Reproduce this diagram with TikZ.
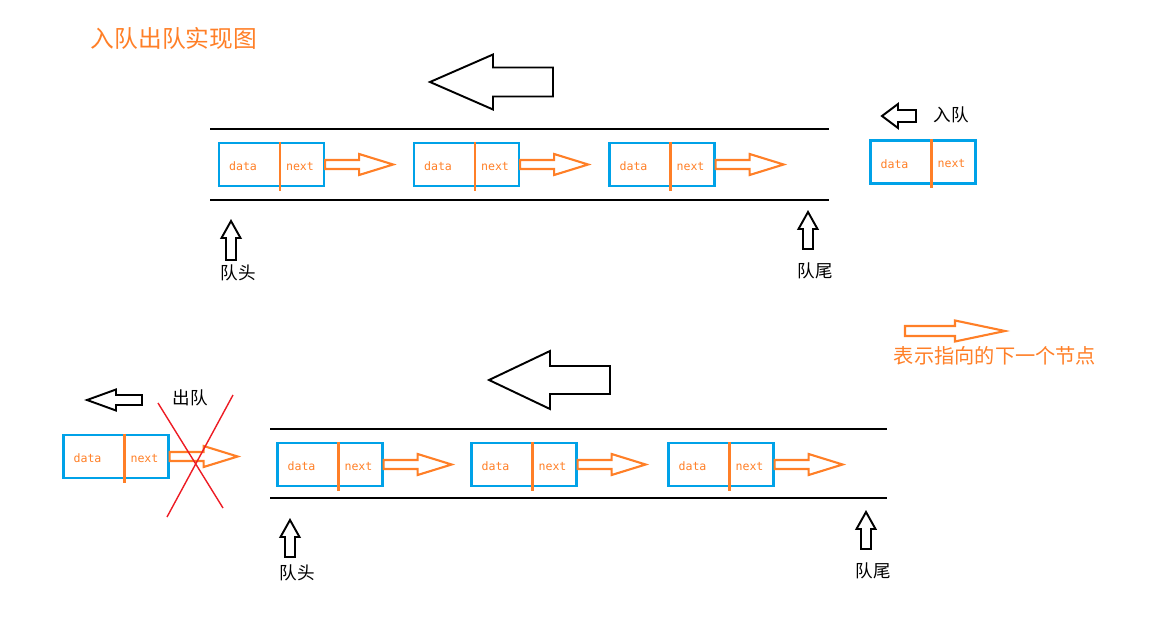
\documentclass[tikz,border=0pt]{standalone}
\usepackage{fontspec}
\newfontfamily\cjk{Noto Sans CJK SC}
\newfontfamily\boxmono{DejaVu Sans Mono}
\usetikzlibrary{positioning}

\definecolor{paintblue}{RGB}{0,162,232}
\definecolor{paintorange}{RGB}{255,127,39}
\definecolor{paintred}{RGB}{237,28,36}

% one queue element: blue box, orange divider, data | next
\newcommand{\listnode}[2]{%
  \node[qbox] (#1) at #2 {};
  \draw[divider] ([xshift=0.17cm]#1.north) -- ([xshift=0.17cm,yshift=-2pt]#1.south);
  \node[field] (#1-d) at ([xshift=-0.57cm,yshift=-1pt]#1.center) {data};
  \node[field] (#1-n) at ([xshift=0.57cm,yshift=-1pt]#1.center) {next};
}

% hollow block arrow: style, tail, angle, length, head length, shaft half, head half
\newcommand{\fatarrow}[7]{%
  \draw[#1, shift={#2}, rotate=#3] (0,-#6) -- ({#4-#5},-#6) -- ({#4-#5},-#7)
    -- (#4,0) -- ({#4-#5},#7) -- ({#4-#5},#6) -- (0,#6) -- cycle;
}

\begin{document}
\begin{tikzpicture}[x=0.02cm, y=-0.02cm,
  qbox/.style={draw=paintblue, line width=1.3pt, minimum width=2.1cm,
    minimum height=0.86cm, inner sep=0pt},
  divider/.style={draw=paintorange, line width=1.3pt},
  field/.style={text=paintorange, font=\boxmono\fontsize{6.6}{8}\selectfont, inner sep=0pt},
  ptr/.style={draw=paintorange, line width=1.2pt, line join=miter},
  block/.style={draw=black, line width=1.1pt, line join=miter},
  rail/.style={draw=black, line width=1.3pt},
  label/.style={font=\cjk\fontsize{10}{12}\selectfont, inner sep=0pt},
  note/.style={font=\cjk\fontsize{11.5}{13}\selectfont, text=paintorange, inner sep=0pt},
  cross/.style={draw=paintred, line width=0.8pt},
]
  \useasboundingbox (0,0) rectangle (1162,625);

  \node[font=\cjk\fontsize{13.5}{15}\selectfont, text=paintorange, inner sep=0pt] (title) at (174,38) {入队出队实现图};

  % ---- enqueue ----
  \fatarrow{block}{(553,82)}{180}{123}{63}{14.5}{27.5}
  \coordinate (r1a) at (210,129);
  \coordinate (r1b) at (829,129);
  \coordinate (r2a) at (210,200);
  \coordinate (r2b) at (829,200);
  \draw[rail] (r1a) -- (r1b);
  \draw[rail] (r2a) -- (r2b);

  \listnode{a1}{(271.5,164.5)}
  \listnode{a2}{(466.5,164.5)}
  \listnode{a3}{(662,164.5)}
  \listnode{new}{(923,162)}
  \foreach \n in {a1,a2,a3}{
    \fatarrow{ptr}{(\n.east)}{0}{68}{34}{4.5}{10.5}
  }

  \fatarrow{block}{(916,116)}{180}{34}{16}{6}{12}
  \node[label] (enq) at (951,115) {入队};

  \node[label] (head1) at (238,273) {队头};
  \node[label] (tail1) at (815,271) {队尾};
  \fatarrow{block}{(231,260)}{90}{39}{17}{5}{9.5}
  \fatarrow{block}{(808,249)}{90}{37}{17}{5}{9.5}

  % ---- legend ----
  \fatarrow{ptr}{(905,331)}{0}{100}{50}{5}{10.5}
  \node[note] (legend) at (995,356) {表示指向的下一个节点};

  % ---- dequeue ----
  \fatarrow{block}{(610,380)}{180}{121}{61}{14}{29}
  \coordinate (s1a) at (270,429);
  \coordinate (s1b) at (887,429);
  \coordinate (s2a) at (270,498);
  \coordinate (s2b) at (887,498);
  \draw[rail] (s1a) -- (s1b);
  \draw[rail] (s2a) -- (s2b);

  \listnode{b1}{(330,464.5)}
  \listnode{b2}{(524,464.5)}
  \listnode{b3}{(721,464.5)}
  \listnode{old}{(116,456.5)}
  \foreach \n in {b1,b2,b3,old}{
    \fatarrow{ptr}{(\n.east)}{0}{68}{34}{4.5}{10.5}
  }

  \fatarrow{block}{(142,400)}{180}{55}{29}{5}{10.5}
  \node[label] (deq) at (190,398) {出队};
  \draw[cross] (158,403) -- (223,508);
  \draw[cross] (233,395) -- (167,517);

  \node[label] (head2) at (297,573) {队头};
  \node[label] (tail2) at (873,571) {队尾};
  \fatarrow{block}{(290,557)}{90}{37}{17}{5}{9.5}
  \fatarrow{block}{(866,549)}{90}{37}{17}{5}{9.5}
\end{tikzpicture}
\end{document}
